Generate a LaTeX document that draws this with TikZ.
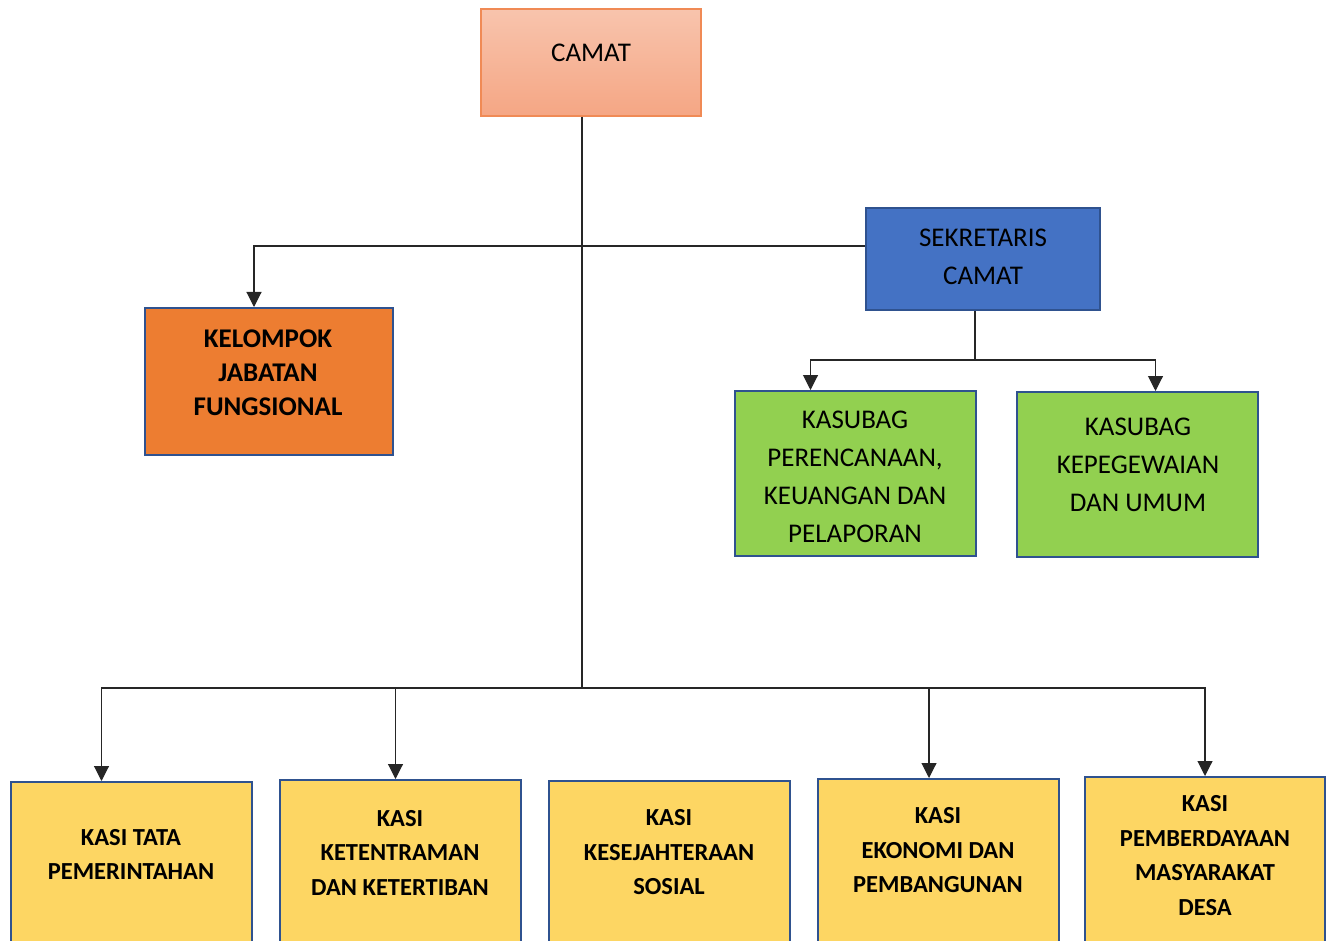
\documentclass[tikz,border=0pt]{standalone}
\usepackage{fontspec}
\setmainfont{Carlito}
\usepackage{xcolor}
\usetikzlibrary{arrows.meta, positioning}
\definecolor{frameblue}{HTML}{2F528F}
\definecolor{camatorange}{HTML}{F08A55}
\definecolor{camattop}{HTML}{F8C4AD}
\definecolor{camatbottom}{HTML}{F5A684}
\definecolor{secblue}{HTML}{4472C4}
\definecolor{subgreen}{HTML}{92D050}
\definecolor{jfforange}{HTML}{ED7D31}
\definecolor{kasiyellow}{HTML}{FDD663}

\begin{document}
\begin{tikzpicture}[x=1pt, y=-1pt,
  box/.style={draw=frameblue, line width=2pt, inner sep=0pt},
  txt/.style={align=center, inner sep=0pt, font=\fontsize{27}{38}\selectfont},
  txtb/.style={align=center, inner sep=0pt, font=\bfseries\fontsize{24.5}{34.5}\selectfont},
  kasi/.style={box, fill=kasiyellow, anchor=north, minimum width=241pt, minimum height=220pt},
  line/.style={draw=black!85, line width=1.1pt},
  arr/.style={line, -{Triangle[width=15pt, length=15pt]}}]
  \useasboundingbox (0,0) rectangle (1328,941);
  \clip (0,0) rectangle (1328,941);
  % top level
  \node[box, draw=camatorange, line width=1.2pt, top color=camattop, bottom color=camatbottom,
        minimum width=220pt, minimum height=107pt] (camat) at (591,62.5) {};
  \node[txt] (camat text) at (591,53) {CAMAT};
  \node[box, fill=secblue, minimum width=234pt, minimum height=102pt] (sekcam) at (983,259) {};
  \node[txt] (sekcam text) at (983,257) {SEKRETARIS\\CAMAT};
  \node[box, fill=jfforange, minimum width=248pt, minimum height=147pt] (kjf) at (269,381.5) {};
  \node[txt, font=\bfseries\fontsize{27}{34}\selectfont] (kjf text) at (268,373) {KELOMPOK\\JABATAN\\FUNGSIONAL};
  % sub divisions
  \node[box, fill=subgreen, minimum width=241pt, minimum height=165pt] (ksb1) at (855.5,473.5) {};
  \node[txt] (ksb1 text) at (855,476.5) {KASUBAG\\PERENCANAAN,\\KEUANGAN DAN\\PELAPORAN};
  \node[box, fill=subgreen, minimum width=241pt, minimum height=165pt] (ksb2) at (1137.5,474.5) {};
  \node[txt] (ksb2 text) at (1138,465) {KASUBAG\\KEPEGEWAIAN\\DAN UMUM};
  % sections
  \node[kasi] (kasi1) at (131.5,781) {};
  \node[txtb] (kasi1 text) at (131,854.5) {KASI TATA\\PEMERINTAHAN};
  \node[kasi] (kasi2) at (400.5,779) {};
  \node[txtb] (kasi2 text) at (400,852.5) {KASI\\KETENTRAMAN\\DAN KETERTIBAN};
  \node[kasi] (kasi3) at (669.5,780) {};
  \node[txtb] (kasi3 text) at (669,852.5) {KASI\\KESEJAHTERAAN\\SOSIAL};
  \node[kasi] (kasi4) at (938,778) {};
  \node[txtb] (kasi4 text) at (938,850.5) {KASI\\EKONOMI DAN\\PEMBANGUNAN};
  \node[kasi, minimum width=240pt] (kasi5) at (1205,776) {};
  \node[txtb] (kasi5 text) at (1205,855.5) {KASI\\PEMBERDAYAAN\\MASYARAKAT\\DESA};
  % connectors
  \coordinate (j1) at (582,246);
  \coordinate (j2) at (582,688);
  \coordinate (j3) at (975,360);
  \draw[line] (camat.south -| j1) -- (j2);
  \draw[arr] (sekcam.west |- j1) -| ([xshift=-15pt]kjf.north);
  \draw[line] (sekcam.south -| j3) -- (j3);
  \draw[arr] (j3) -| ([xshift=-45pt]ksb1.north);
  \draw[arr] (j3) -| ([xshift=18pt]ksb2.north);
  \draw[arr] (j2) -| ([xshift=-30pt]kasi1.north);
  \draw[arr] (j2) -| ([xshift=-5pt]kasi2.north);
  \draw[arr] (j2) -| ([xshift=-9pt]kasi4.north);
  \draw[arr] (j2) -| (kasi5.north);
\end{tikzpicture}
\end{document}
